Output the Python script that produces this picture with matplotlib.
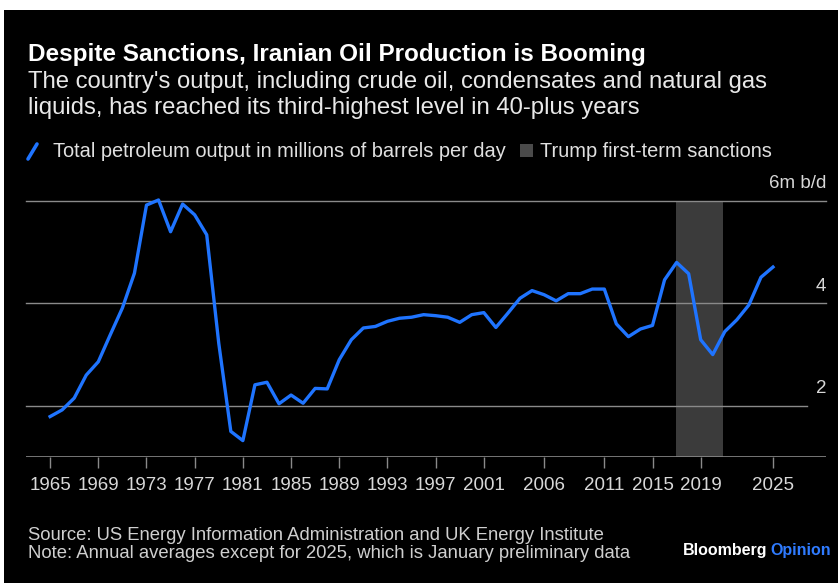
import matplotlib
matplotlib.use('Agg')
import matplotlib.pyplot as plt
from matplotlib.patches import Rectangle
from matplotlib.lines import Line2D

plt.rcParams['font.family'] = ['Liberation Sans', 'DejaVu Sans']

#=======data=============================#
years = list(range(1965, 2026))
output_mbd = [1.79, 1.92, 2.15, 2.60, 2.86, 3.39, 3.91, 4.59, 5.92, 6.02,   # 1965-1974
              5.40, 5.94, 5.73, 5.34, 3.22, 1.50, 1.32, 2.41, 2.46, 2.04,   # 1975-1984
              2.21, 2.05, 2.34, 2.33, 2.90, 3.29, 3.52, 3.55, 3.65, 3.71,   # 1985-1994
              3.73, 3.78, 3.76, 3.73, 3.63, 3.78, 3.82, 3.53, 3.81, 4.10,   # 1995-2004
              4.25, 4.17, 4.05, 4.19, 4.19, 4.28, 4.28, 3.60, 3.35, 3.50,   # 2005-2014
              3.57, 4.46, 4.80, 4.58, 3.29, 3.00, 3.45, 3.68, 3.97, 4.51,   # 2015-2024
              4.71]                                                          # 2025
sanction_span = (2016.95, 2020.85)
tick_years = [1965, 1969, 1973, 1977, 1981, 1985, 1989, 1993, 1997, 2001,
              2006, 2011, 2015, 2019, 2025]
grid_values = [2, 4, 6]
grid_labels = ['2', '4', '6m b/d']

W, H = 838, 583
BLUE = '#1f74ff'

def fx(px):
    return px / W

def fy(py):
    return 1 - py / H

fig = plt.figure(figsize=(W / 100, H / 100), dpi=100, facecolor='white')
# black card with a thin white margin on top/left like the screenshot
fig.patches.append(Rectangle((fx(4), 0), 1 - fx(4), fy(10), transform=fig.transFigure,
                             facecolor='black', edgecolor='none', zorder=-10))

#====== titles & legend =====#
fig.text(fx(28), fy(61), 'Despite Sanctions, Iranian Oil Production is Booming',
         color='white', fontsize=17.5, fontweight='bold', va='baseline')
fig.text(fx(28), fy(88), "The country's output, including crude oil, condensates and natural gas",
         color='#e8e8e8', fontsize=17.2, va='baseline')
fig.text(fx(28), fy(114), 'liquids, has reached its third-highest level in 40-plus years',
         color='#e8e8e8', fontsize=17.2, va='baseline')

fig.lines.append(Line2D([fx(28), fx(37)], [fy(159), fy(144)], transform=fig.transFigure,
                        color=BLUE, lw=2.6, solid_capstyle='round'))
fig.text(fx(53), fy(157), 'Total petroleum output in millions of barrels per day',
         color='#e0e0e0', fontsize=14.4, va='baseline')
fig.patches.append(Rectangle((fx(520), fy(157)), fx(13), 13 / H, transform=fig.transFigure,
                             facecolor='#4a4a4a', edgecolor='none'))
fig.text(fx(540), fy(157), 'Trump first-term sanctions',
         color='#e0e0e0', fontsize=14.4, va='baseline')

#====== main axes =====#
ax = fig.add_axes([fx(26), fy(457), fx(826) - fx(26), (457 - 201) / H])
ax.set_facecolor('none')
ax.set_xlim(1963.0, 2029.4)
ax.set_ylim(1, 6)
for s in ax.spines.values():
    s.set_visible(False)

ax.axvspan(*sanction_span, ymin=0, ymax=1, color='#3b3b3b', lw=0, zorder=1)

for v, lab in zip(grid_values, grid_labels):
    xmax = 0.976 if v == 2 else 1.0
    ax.axhline(v, xmin=0, xmax=xmax, color='#8a8a8a', lw=1, zorder=2, clip_on=False)
    ax.text(1.0, v + 0.25, lab, transform=ax.get_yaxis_transform(), ha='right', va='baseline',
            color='#d8d8d8', fontsize=13.5)
ax.axhline(1, color='#8a8a8a', lw=1.2, zorder=2)

ax.plot(years, output_mbd, color=BLUE, lw=2.4, zorder=3, clip_on=False,
        solid_joinstyle='round')

ax.set_yticks([])
ax.set_xticks(tick_years)
ax.set_xticklabels([str(y) for y in tick_years])
ax.tick_params(axis='x', colors='#8a8a8a', length=8, width=1, pad=6.5,
               labelcolor='#d8d8d8', labelsize=13.5)

#====== footer =====#
fig.text(fx(28), fy(540), 'Source: US Energy Information Administration and UK Energy Institute',
         color='#cfcfcf', fontsize=13.3, va='baseline')
fig.text(fx(28), fy(558), 'Note: Annual averages except for 2025, which is January preliminary data',
         color='#cfcfcf', fontsize=13.3, va='baseline')
t = fig.text(fx(683), fy(555), 'Bloomberg', color='white', fontsize=11.5,
             fontweight='bold', va='baseline')
fig.canvas.draw()
bb = t.get_window_extent()
fig.text(bb.x1 / W + fx(3), fy(555), 'Opinion', color='#2f7bff', fontsize=11.5,
         fontweight='bold', va='baseline')

fig.savefig('out.png', dpi=100, facecolor='white')
